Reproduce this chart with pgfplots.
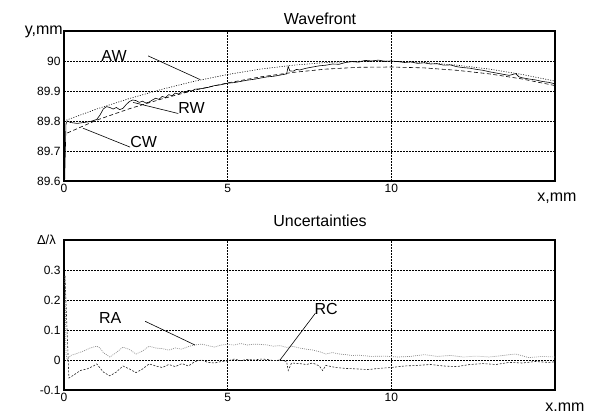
\documentclass[border=0pt]{standalone}
\usepackage{pgfplots}
\pgfplotsset{compat=1.18}
\usepackage{fontspec}
\setmainfont{Liberation Sans}
\begin{document}
\fontsize{16}{18}\selectfont
\begin{tikzpicture}[x=1pt,y=1pt,font=\fontsize{16}{18}\selectfont]
\useasboundingbox (0,0) rectangle (593,414);
\pgfplotsset{
  panel/.style={
    scale only axis, width=491pt, height=150pt,
    xmin=0, xmax=15, xtick={0,5,10},
    axis line style={line width=1.3pt},
    major tick length=0pt,
    grid=major,
    major grid style={black, line width=0.7pt, dash pattern=on 1.6pt off 1.4pt},
    /pgf/number format/assume math mode=true,
    tick label style={font=\fontsize{12}{14}\selectfont},
    xticklabel style={yshift=2pt},
    yticklabel style={xshift=2pt},
    clip=true,
  }
}
% top panel
\begin{axis}[panel, at={(64pt,233pt)}, anchor=south west,
  ymin=89.6, ymax=90.1, ytick={89.6,89.7,89.8,89.9,90},
  yticklabels={89.6,89.7,89.8,89.9,90}]
\addplot[black, line width=0.6pt] coordinates {
(0.02,89.60)(0.06,89.79)(0.1,89.80)(0.2,89.795)(0.4,89.792)(0.6,89.795)(0.8,89.798)
(1.0,89.805)(1.1,89.82)(1.2,89.84)(1.3,89.848)(1.4,89.845)(1.5,89.84)(1.6,89.845)
(1.7,89.838)(1.8,89.842)(1.9,89.855)(2.0,89.865)(2.1,89.87)(2.2,89.868)(2.3,89.862)
(2.4,89.866)(2.5,89.86)(2.6,89.863)(2.7,89.87)(2.8,89.876)(2.9,89.872)(3.0,89.882)
(3.1,89.878)(3.2,89.888)(3.3,89.884)(3.4,89.893)(3.5,89.89)(3.6,89.898)(3.7,89.895)
(3.8,89.902)(3.9,89.9)(4.0,89.906)(4.2,89.908)(4.4,89.912)(4.6,89.918)(4.8,89.921)
(5.0,89.926)(5.2,89.928)(5.4,89.932)(5.6,89.936)(5.8,89.939)(6.0,89.943)(6.2,89.947)
(6.4,89.949)(6.6,89.953)(6.8,89.957)(6.85,89.982)(6.9,89.967)(7.0,89.966)(7.1,89.972)
(7.2,89.97)(7.4,89.976)(7.6,89.98)(7.8,89.984)(8.0,89.986)(8.2,89.99)(8.4,89.989)
(8.6,89.995)(8.8,89.998)(9.0,89.996)(9.2,90.002)(9.4,90.0)(9.6,90.003)(9.8,89.999)
(10.0,90.0)(10.2,89.998)(10.4,89.995)(10.6,89.997)(10.8,89.992)(11.0,89.994)(11.2,89.99)
(11.4,89.991)(11.6,89.986)(11.8,89.987)(12.0,89.981)(12.2,89.978)(12.4,89.976)(12.6,89.972)
(12.8,89.969)(13.0,89.964)(13.2,89.96)(13.4,89.956)(13.6,89.952)(13.8,89.958)(13.9,89.947)
(14.0,89.944)(14.2,89.94)(14.4,89.937)(14.6,89.932)(14.8,89.929)(15.0,89.924)};
\addplot[black, line width=0.6pt, dash pattern=on 1pt off 1.5pt] coordinates {
(0,89.800)(1,89.840)(2,89.875)(3,89.906)(4,89.933)(5,89.955)(6,89.973)(7,89.986)
(8,89.995)(9,89.999)(10,89.999)(11,89.995)(12,89.986)(13,89.973)(14,89.955)(15,89.933)};
\addplot[black, line width=0.6pt, dash pattern=on 4pt off 2.5pt] coordinates {
(0.1,89.760)(1,89.803)(2,89.841)(3,89.874)(4,89.903)(5,89.927)(6,89.947)(7,89.962)
(8,89.973)(9,89.979)(10,89.980)(11,89.977)(12,89.969)(13,89.957)(14,89.940)(15,89.918)};
\draw[line width=0.6pt] (axis cs:2.57,90.017) -- (axis cs:4.16,89.938);
\node[anchor=center] at (axis cs:1.53,90.017) {AW};
\draw[line width=0.6pt] (axis cs:2.11,89.862) -- (axis cs:3.49,89.825);
\node[anchor=west, inner sep=0pt] at (axis cs:3.49,89.842) {RW};
\draw[line width=0.6pt] (axis cs:0.58,89.776) -- (axis cs:2.02,89.713);
\node[anchor=west, inner sep=0pt] at (axis cs:2.02,89.729) {CW};
\end{axis}
\node[anchor=base, inner sep=0pt] at (320,389) {Wavefront};
\node[anchor=base east, inner sep=0pt] at (63,379) {y,mm};
\node[anchor=base, inner sep=0pt] at (557,212) {x,mm};
% bottom panel
\begin{axis}[panel, at={(64pt,24pt)}, anchor=south west,
  ymin=-0.1, ymax=0.4, ytick={-0.1,0,0.1,0.2,0.3},
  yticklabels={-0.1,0,0.1,0.2,0.3}]
\addplot[gray!90, line width=0.7pt, dash pattern=on 0.9pt off 1.1pt] coordinates {
(0.03,0.28)(0.06,0.02)(0.1,0.0)(0.2,0.015)(0.4,0.022)(0.6,0.03)(0.8,0.04)(1.0,0.046)
(1.1,0.04)(1.2,0.025)(1.4,0.01)(1.6,0.025)(1.8,0.043)(2.0,0.035)(2.2,0.02)(2.4,0.03)
(2.6,0.046)(2.8,0.04)(3.0,0.038)(3.2,0.033)(3.4,0.04)(3.6,0.036)(3.8,0.045)(4.0,0.05)
(4.2,0.053)(4.4,0.048)(4.6,0.043)(4.8,0.05)(5.0,0.052)(5.2,0.05)(5.4,0.055)(5.6,0.05)
(5.8,0.053)(6.0,0.052)(6.2,0.05)(6.4,0.046)(6.6,0.048)(6.8,0.042)(7.0,0.045)(7.2,0.04)
(7.4,0.036)(7.6,0.033)(7.8,0.028)(8.0,0.02)(8.2,0.025)(8.4,0.02)(8.6,0.018)(8.8,0.015)
(9.0,0.016)(9.4,0.012)(9.8,0.013)(10.2,0.01)(10.6,0.012)(11.0,0.018)(11.4,0.012)
(11.8,0.015)(12.2,0.01)(12.6,0.013)(13.0,0.01)(13.4,0.015)(13.8,0.02)(14.2,0.008)
(14.6,0.012)(15.0,0.01)};
\addplot[black!85, line width=0.6pt, dash pattern=on 2pt off 1.5pt] coordinates {
(0.03,0.28)(0.15,-0.06)(0.3,-0.05)(0.5,-0.035)(0.7,-0.03)(0.9,-0.02)(1.0,-0.013)
(1.2,-0.04)(1.4,-0.053)(1.6,-0.04)(1.8,-0.02)(2.0,-0.03)(2.2,-0.042)(2.4,-0.03)
(2.6,-0.013)(2.8,-0.02)(3.0,-0.025)(3.2,-0.015)(3.4,-0.022)(3.6,-0.012)(3.8,-0.02)
(4.0,-0.005)(4.2,0.0)(4.4,-0.008)(4.6,-0.01)(4.8,-0.005)(5.0,-0.003)(5.2,0.003)
(5.4,-0.002)(5.6,0.002)(5.8,0.0)(6.0,0.003)(6.2,0.002)(6.4,-0.002)(6.6,0.0)
(6.8,-0.005)(6.85,-0.035)(6.95,-0.01)(7.2,-0.012)(7.4,-0.015)(7.6,-0.01)(7.8,-0.02)
(7.9,-0.035)(8.0,-0.018)(8.3,-0.025)(8.6,-0.028)(9.0,-0.03)(9.3,-0.032)(9.6,-0.028)
(10.0,-0.025)(10.4,-0.02)(10.8,-0.018)(11.2,-0.015)(11.6,-0.02)(12.0,-0.022)
(12.4,-0.015)(12.8,-0.012)(13.2,-0.015)(13.6,-0.008)(14.0,-0.01)(14.4,-0.005)
(14.8,-0.008)(15.0,-0.006)};
\draw[line width=0.6pt] (axis cs:2.48,0.129) -- (axis cs:4.0,0.05);
\node[anchor=center] at (axis cs:1.41,0.139) {RA};
\draw[line width=0.6pt] (axis cs:6.6,0.0) -- (axis cs:7.68,0.156);
\node[anchor=south west, inner sep=0pt] at (axis cs:7.65,0.15) {RC};
\end{axis}
\node[anchor=base, inner sep=0pt] at (320,187) {Uncertainties};
\node[anchor=base east, inner sep=0pt, font=\fontsize{13}{15}\selectfont] at (56,169) {Δ/λ};
\node[anchor=base, inner sep=0pt] at (565,2) {x.mm};
\end{tikzpicture}
\end{document}
